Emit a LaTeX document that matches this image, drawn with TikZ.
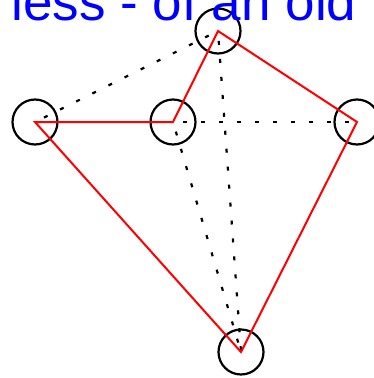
\documentclass[tikz,border=0pt]{standalone}
\usepackage{fontspec}
\setmainfont{Liberation Sans}
\usepackage{xcolor}
\usepackage{tikz}
\usetikzlibrary{positioning, calc}

\begin{document}
\begin{tikzpicture}[x=1pt, y=-1pt,
  ring/.style={draw, circle, line width=2.2pt, minimum size=45pt, inner sep=0pt, outer sep=0pt},
  redline/.style={red, line width=2pt},
  dotline/.style={line width=2.2pt, dash pattern=on 4pt off 14pt, dash phase=-10pt}]
\useasboundingbox (0,0) rectangle (374,378);
\clip (0,0) rectangle (374,378);

% circles
\node[ring] (top) at (218,31) {};
\node[ring] (left) at (35,122) {};
\node[ring] (middle) at (173,122) {};
\node[ring] (right) at (357,122) {};
\node[ring] (bottom) at (241,352) {};

% dotted links
\draw[dotline] (left.center) -- (top.center);
\draw[dotline] (middle.center) -- (right.center);
\draw[dotline] (top.center) -- (bottom.center);
\draw[dotline] (middle.center) -- (bottom.center);

% red tour
\draw[redline] (top.center) -- (right.center) -- (bottom.center) -- (left.center) -- (middle.center) -- cycle;

% caption, cut at the top
\node[anchor=base west, inner sep=0pt, text=blue, font=\fontsize{53}{60}\selectfont] (caption) at (11.5,20) {less - of an old};
\end{tikzpicture}
\end{document}
